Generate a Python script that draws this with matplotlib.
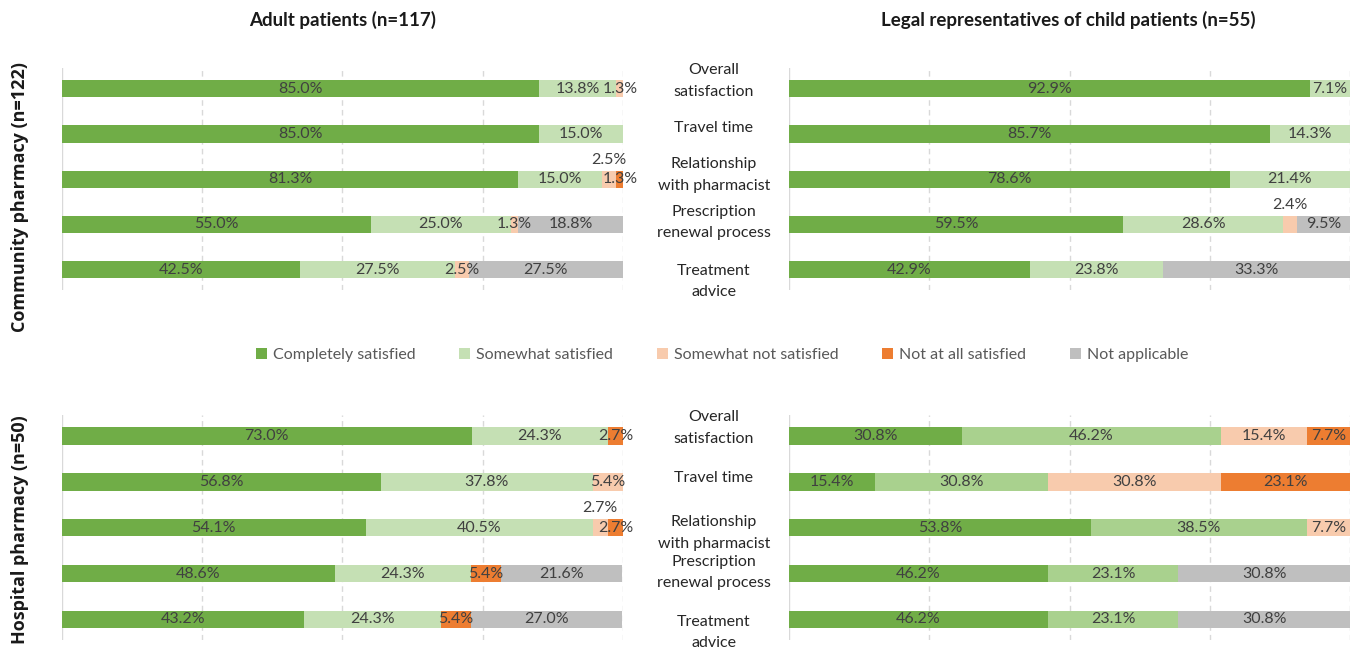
import matplotlib
matplotlib.use("Agg")
import matplotlib.pyplot as plt
from matplotlib.transforms import blended_transform_factory
from matplotlib.patches import Patch
import numpy as np

plt.rcParams['font.family'] = ['Lato', 'DejaVu Sans']

categories = ["Overall\nsatisfaction", "Travel time", "Relationship\nwith pharmacist",
              "Prescription\nrenewal process", "Treatment\nadvice"]
series = ["Completely satisfied", "Somewhat satisfied", "Somewhat not satisfied",
          "Not at all satisfied", "Not applicable"]

# rows = categories, columns = series
adult_community = [
    [85.0, 13.8, 1.3, 0.0, 0.0],
    [85.0, 15.0, 0.0, 0.0, 0.0],
    [81.3, 15.0, 2.5, 1.3, 0.0],
    [55.0, 25.0, 1.3, 0.0, 18.8],
    [42.5, 27.5, 2.5, 0.0, 27.5],
]
child_community = [
    [92.9, 7.1, 0.0, 0.0, 0.0],
    [85.7, 14.3, 0.0, 0.0, 0.0],
    [78.6, 21.4, 0.0, 0.0, 0.0],
    [59.5, 28.6, 2.4, 0.0, 9.5],
    [42.9, 23.8, 0.0, 0.0, 33.3],
]
adult_hospital = [
    [73.0, 24.3, 0.0, 2.7, 0.0],
    [56.8, 37.8, 5.4, 0.0, 0.0],
    [54.1, 40.5, 2.7, 2.7, 0.0],
    [48.6, 24.3, 0.0, 5.4, 21.6],
    [43.2, 24.3, 0.0, 5.4, 27.0],
]
child_hospital = [
    [30.8, 46.2, 15.4, 7.7, 0.0],
    [15.4, 30.8, 30.8, 23.1, 0.0],
    [53.8, 38.5, 7.7, 0.0, 0.0],
    [46.2, 23.1, 0.0, 0.0, 30.8],
    [46.2, 23.1, 0.0, 0.0, 30.8],
]

col_titles = ["Adult patients (n=117)", "Legal representatives of child patients (n=55)"]
row_titles = ["Community pharmacy (n=122)", "Hospital pharmacy (n=50)"]

colors_main = ["#70ad47", "#c5e0b4", "#f8cbad", "#ed7d31", "#bfbfbf"]
colors_br = ["#70ad47", "#a9d18e", "#f8cbad", "#ed7d31", "#bfbfbf"]

W, H = 1356, 651
fig = plt.figure(figsize=(W / 100, H / 100), dpi=100)


def fx(px):
    return px / W


def fy(py):
    return 1 - py / H


panels = [
    (adult_community, (62, 623, 68, 290), colors_main),
    (child_community, (789, 1350, 68, 290), colors_main),
    (adult_hospital, (62, 623, 415, 640), colors_main),
    (child_hospital, (789, 1350, 415, 640), colors_br),
]

axes = []
y = np.arange(len(categories))
for data, (x0, x1, y0, y1), cols in panels:
    ax = fig.add_axes([fx(x0), fy(y1), fx(x1 - x0), (y1 - y0) / H])
    arr = np.array(data)
    left = np.zeros(len(categories))
    for j in range(arr.shape[1]):
        vals = arr[:, j]
        ax.barh(y, vals, left=left, height=0.38, color=cols[j], zorder=2)
        for i, v in enumerate(vals):
            if v <= 0:
                continue
            cx = left[i] + v / 2
            nxt = [w for w in arr[i, j + 1:] if w > 0]
            above = v < 3 and len(nxt) > 0 and nxt[0] < 10
            ty = i - 0.42 if above else i
            ax.text(cx, ty, f"{v:.1f}%", ha="center", va="center",
                    fontsize=11.5, color="#404040", zorder=3)
        left += vals
    ax.set_xlim(0, 100)
    ax.set_ylim(4.45, -0.46)
    for gx in [25, 50, 75, 100]:
        ax.axvline(gx, color="#d9d9d9", lw=1, ls=(0, (4, 3)), zorder=1)
    ax.axvline(0, color="#d9d9d9", lw=1, zorder=1)
    for s in ax.spines.values():
        s.set_visible(False)
    ax.set_xticks([])
    ax.set_yticks([])
    axes.append(ax)

# category labels between panels
label_shift_top = [-8, -6, -4, -2, 12]
label_shift_bot = [-8, -4, 5, -1, 13]
for ax, shifts in [(axes[1], label_shift_top), (axes[3], label_shift_bot)]:
    tr = blended_transform_factory(fig.transFigure, ax.transData)
    for i, c in enumerate(categories):
        ax.text(fx(714), i + shifts[i] / 45.25, c, transform=tr, ha="center", va="center",
                fontsize=11.5, color="#262626", linespacing=1.7)

# titles
fig.text(fx(343), fy(20), col_titles[0], ha="center", va="center",
         fontsize=13.5, fontweight="bold", color="#1a1a1a")
fig.text(fx(1068), fy(20), col_titles[1], ha="center", va="center",
         fontsize=13.5, fontweight="bold", color="#1a1a1a")
fig.text(fx(20), fy(197), row_titles[0], ha="center", va="center", rotation=90,
         fontsize=13, fontweight="bold", color="#1a1a1a", family=["Open Sans", "DejaVu Sans"])
fig.text(fx(20), fy(530), row_titles[1], ha="center", va="center", rotation=90,
         fontsize=13, fontweight="bold", color="#1a1a1a", family=["Open Sans", "DejaVu Sans"])

handles = [Patch(facecolor=c, edgecolor="none") for c in colors_main]
fig.legend(handles, series, loc="center", bbox_to_anchor=(fx(722), fy(355)), ncol=5,
           frameon=False, fontsize=11.5, handlelength=0.7, handleheight=0.7,
           handletextpad=0.35, columnspacing=2.75, labelcolor="#595959")

fig.savefig("out.png", dpi=100)
